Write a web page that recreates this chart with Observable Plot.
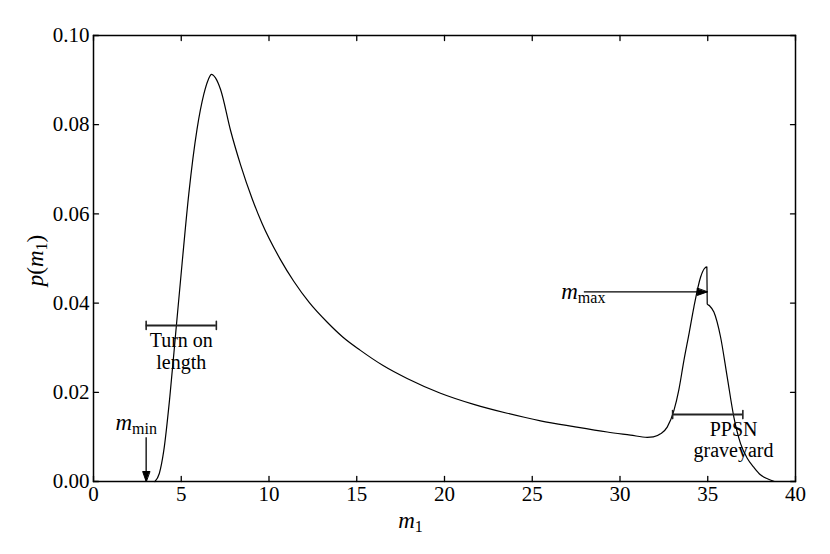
<!DOCTYPE html>
<html><head><meta charset="utf-8">
<script src="https://cdn.jsdelivr.net/npm/d3@7"></script>
<script src="https://cdn.jsdelivr.net/npm/@observablehq/plot@0.6"></script>
<style>
body{margin:0;background:#fff;color:#000}
#chart svg, #chart svg text { font-family: "Liberation Serif", "DejaVu Serif", "Noto Serif", serif !important; }
</style>
</head><body><div id="chart"></div>
<script>
// curve
const mass = [3.5, 3.75, 4.0, 4.35, 4.7, 5.05, 5.43, 5.9, 6.29, 6.55, 6.72, 6.95, 7.24, 7.81, 8.38, 9.04, 9.6, 10.66, 11.41, 12.3, 13.32, 14.2, 15.21, 16.5, 17.87, 19.77, 21.67, 23.57, 25.47, 27.37, 29.27, 30.6, 31.55, 31.9, 32.31, 32.69, 33.07, 33.35, 33.64, 33.95, 34.21, 34.59, 34.8, 34.95, 34.97, 35.1, 35.35, 35.73, 36.11, 36.49, 36.87, 37.25, 37.62, 38.0, 38.4, 38.8];
const prob = [0, 0.0018, 0.0068, 0.019, 0.034, 0.049, 0.0645, 0.079, 0.0869, 0.0902, 0.0913, 0.0905, 0.0879, 0.0787, 0.0710, 0.0634, 0.0579, 0.0497, 0.0449, 0.0401, 0.0357, 0.0324, 0.0294, 0.0260, 0.0231, 0.0198, 0.0173, 0.0153, 0.0136, 0.0123, 0.0111, 0.0104, 0.0099, 0.0100, 0.0107, 0.0122, 0.0159, 0.0205, 0.0271, 0.0335, 0.0391, 0.0458, 0.0477, 0.0481, 0.0398, 0.0394, 0.0380, 0.0324, 0.0234, 0.0144, 0.0085, 0.0052, 0.0032, 0.0015, 0.0006, 0];

const xTicks = [0, 5, 10, 15, 20, 25, 30, 35, 40];
const yTicks = [0, 0.02, 0.04, 0.06, 0.08, 0.10];

// range bars
const barStart = [3, 33];
const barEnd = [7, 37];
const barY = [0.035, 0.015];
const barText = ["Turn on\nlength", "PPSN\ngraveyard"];
const barTextX = [5.0, 36.47];
const barTextY = [0.0253, 0.0054];
const barTextAnchor = ["middle", "end"];

// limit arrows
const arrowFromX = [3, 27.94];
const arrowFromY = [0.0099, 0.0425];
const arrowToX = [3, 34.97];
const arrowToY = [0, 0.0425];
const arrowDir = [0, -90];
const limitNames = ["min", "max"];
const limitTextX = [1.25, 26.65];
const limitTextY = [0.0116, 0.0410];

const FONT = "Liberation Serif, DejaVu Serif, serif";
const curve = mass.map((m, i) => ({m, p: prob[i]}));
const bars = barStart.map((s, i) => ({x1: s, x2: barEnd[i], y: barY[i], tx: barTextX[i], ty: barTextY[i], t: barText[i], a: barTextAnchor[i]}));
const caps = bars.flatMap(b => [{x: b.x1, y: b.y}, {x: b.x2, y: b.y}]);
const arrows = arrowFromX.map((x, i) => ({x1: x, y1: arrowFromY[i], x2: arrowToX[i], y2: arrowToY[i], r: arrowDir[i]}));
const limits = limitNames.map((n, i) => ({n, x: limitTextX[i], y: limitTextY[i], t: "@lim" + i}));

const tickShape = {draw(ctx, l) { ctx.moveTo(0, 0); ctx.lineTo(0, -l); }};
const capShape = {draw(ctx, l) { ctx.moveTo(0, l / 2); ctx.lineTo(0, -l / 2); }};
const headShape = {draw(ctx, l) { ctx.moveTo(0, 0); ctx.lineTo(-3.5, -l); ctx.lineTo(3.5, -l); ctx.closePath(); }};

const tickOpts = {length: 5, anchor: "start", shape: tickShape, stroke: "black", strokeWidth: 1.3};

const chart = Plot.plot({
  width: 830, height: 554,
  marginLeft: 93, marginRight: 35, marginTop: 35, marginBottom: 73,
  style: "font-family: 'Liberation Serif', 'DejaVu Serif', serif; font-size: 21px; background: #fff; color: #000;",
  x: {domain: [0, 40]},
  y: {domain: [0, 0.1]},
  marks: [
    Plot.axisX(xTicks, {tickSize: 0, tickPadding: 5, label: null, fontSize: 21, fontFamily: FONT}),
    Plot.axisY(yTicks, {tickSize: 0, tickPadding: 4, label: null, tickFormat: d3.format(".2f"), fontSize: 21, fontFamily: FONT}),
    Plot.vector(xTicks, {...tickOpts, x: d => d, y: 0, rotate: 0}),
    Plot.vector(xTicks, {...tickOpts, x: d => d, y: 0.1, rotate: 180}),
    Plot.vector(yTicks, {...tickOpts, y: d => d, x: 0, rotate: 90}),
    Plot.vector(yTicks, {...tickOpts, y: d => d, x: 40, rotate: -90}),
    Plot.line(curve, {x: "m", y: "p", curve: "monotone-x", stroke: "black", strokeWidth: 1.2}),
    Plot.ruleY(bars, {x1: "x1", x2: "x2", y: "y", stroke: "#222", strokeWidth: 2}),
    Plot.vector(caps, {x: "x", y: "y", length: 8, anchor: "start", shape: capShape, stroke: "#222", strokeWidth: 1.6}),
    Plot.text(bars, {x: "tx", y: "ty", text: "t", textAnchor: "a", lineAnchor: "bottom", lineHeight: 1.08, fontSize: 20, fontFamily: FONT}),
    Plot.link(arrows, {x1: "x1", y1: "y1", x2: "x2", y2: "y2", stroke: "black", strokeWidth: 1.3}),
    Plot.vector(arrows, {x: "x2", y: "y2", rotate: "r", length: 10, anchor: "start", shape: headShape, fill: "black", stroke: "black", strokeWidth: 1}),
    Plot.text(limits, {x: "x", y: "y", text: "t", textAnchor: "start", lineAnchor: "bottom", fontSize: 23, fontFamily: FONT}),
    Plot.text(["@m1"], {frameAnchor: "bottom", textAnchor: "middle", dx: -34, dy: 46, lineAnchor: "bottom", fontSize: 23, fontFamily: FONT}),
    Plot.text(["@pm1"], {frameAnchor: "left", textAnchor: "middle", dx: -51, dy: 2, rotate: -90, lineAnchor: "bottom", fontSize: 23, fontFamily: FONT}),
    Plot.frame({stroke: "black", strokeWidth: 1.5})
  ]
});
document.getElementById("chart").append(chart);

function rich(token, parts) {
  d3.select(chart).selectAll("text").filter(function() { return this.textContent === token; }).each(function() {
    const t = d3.select(this);
    t.text(null);
    let shift = 0;
    for (const p of parts) {
      const s = t.append("tspan").text(p.t);
      if (p.italic) s.attr("font-style", "italic");
      if (p.size) s.attr("font-size", p.size);
      const want = p.sub || 0;
      if (want !== shift) { s.attr("dy", want - shift); shift = want; }
    }
  });
}
limits.forEach(l => rich(l.t, [{t: "m", italic: true}, {t: l.n, size: 16, sub: 4}]));
rich("@m1", [{t: "m", italic: true}, {t: "1", size: 16, sub: 4}]);
rich("@pm1", [{t: "p", italic: true}, {t: "("}, {t: "m", italic: true}, {t: "1", size: 16, sub: 4}, {t: ")", sub: 0}]);
</script>
</body></html>
